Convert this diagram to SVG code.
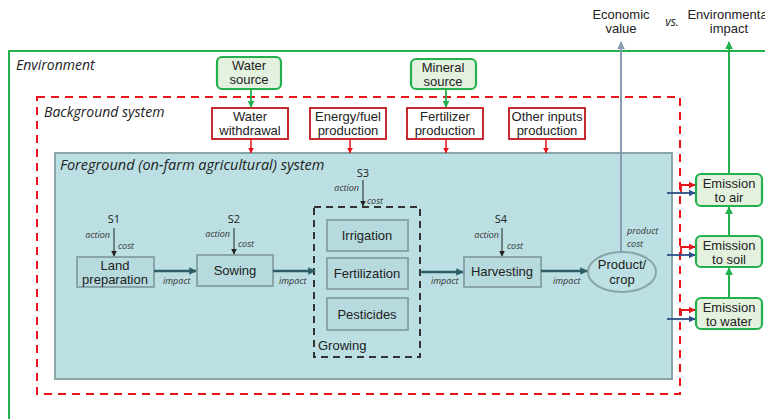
<svg xmlns="http://www.w3.org/2000/svg" width="765" height="419" viewBox="0 0 765 419">
<defs>
<style>
text{font-family:"Liberation Sans",Arial,sans-serif;fill:#222}
.it{font-family:"Open Sans","DejaVu Sans",sans-serif;font-style:italic}
.lbl{font-size:13px;text-anchor:middle}
.sm{font-size:9px;font-style:italic;fill:#333}
.s{font-family:"Open Sans","DejaVu Sans",sans-serif;font-size:11px;fill:#222;text-anchor:middle}
.green{fill:#e4f1df;stroke:#22b14c;stroke-width:2.2}
.red{fill:#fff;stroke:#c0141c;stroke-width:1.8}
.step{fill:#b6dade;stroke:#8aa5a8;stroke-width:2}
.flow{stroke:#2f5d66;stroke-width:2.5;fill:none}
.thin{stroke:#222;stroke-width:1;fill:none}
</style>
<marker id="ar" viewBox="0 0 10 10" refX="9" refY="5" markerWidth="4" markerHeight="4" orient="auto"><path d="M0,0L10,5L0,10z" fill="#e8141c"/></marker>
<marker id="ag" viewBox="0 0 10 10" refX="9" refY="5" markerWidth="4" markerHeight="4" orient="auto"><path d="M0,0L10,5L0,10z" fill="#22b14c"/></marker>
<marker id="ak" viewBox="0 0 10 10" refX="9" refY="5" markerWidth="6" markerHeight="6" orient="auto"><path d="M0,0L10,5L0,10z" fill="#222"/></marker>
<marker id="at" viewBox="0 0 10 10" refX="9" refY="5" markerWidth="3" markerHeight="3" orient="auto"><path d="M0,0L10,5L0,10z" fill="#2f5d66"/></marker>
<marker id="ab" viewBox="0 0 10 10" refX="9" refY="5" markerWidth="4" markerHeight="4" orient="auto"><path d="M0,0L10,5L0,10z" fill="#2b4f86"/></marker>
<marker id="ay" viewBox="0 0 10 10" refX="9" refY="5" markerWidth="4" markerHeight="4" orient="auto"><path d="M0,0L10,5L0,10z" fill="#8a9ab0"/></marker>
</defs>
<rect width="765" height="419" fill="#fff"/>

<g id="environment">
<rect x="9" y="51" width="770" height="380" fill="none" stroke="#22b14c" stroke-width="2"/>
<text x="16" y="70" class="it" font-size="14">Environment</text>
</g>
<g id="background">
<rect x="37" y="97" width="643" height="297" fill="none" stroke="#e8141c" stroke-width="2" stroke-dasharray="8,6"/>
<text x="44" y="117" class="it" font-size="14">Background system</text>
</g>
<g id="foreground">
<rect x="55" y="153" width="617" height="226" fill="#bbdfe3" stroke="#8aa5a8" stroke-width="2"/>
<text x="60" y="170" class="it" font-size="14.5">Foreground (on-farm agricultural) system</text>
</g>

<g id="water-source"><rect x="217" y="57" width="64" height="32" rx="5" class="green"/><text x="249" y="70" class="lbl" font-size="12">Water</text><text x="249" y="84" class="lbl" font-size="12">source</text></g>
<g id="mineral-source"><rect x="411" y="59" width="65" height="30" rx="5" class="green"/><text x="443" y="72" class="lbl" font-size="12">Mineral</text><text x="443" y="86" class="lbl" font-size="12">source</text></g>

<g id="water-withdrawal"><rect x="212" y="108" width="76" height="31" class="red"/><text x="250" y="121" class="lbl" font-size="12">Water</text><text x="250" y="135" class="lbl" font-size="12">withdrawal</text></g>
<g id="energy"><rect x="310" y="108" width="76" height="31" class="red"/><text x="348" y="121" class="lbl" font-size="12">Energy/fuel</text><text x="348" y="135" class="lbl" font-size="12">production</text></g>
<g id="fertilizer"><rect x="407" y="108" width="76" height="31" class="red"/><text x="445" y="121" class="lbl" font-size="12">Fertilizer</text><text x="445" y="135" class="lbl" font-size="12">production</text></g>
<g id="other-inputs"><rect x="509" y="108" width="76" height="31" class="red"/><text x="547" y="121" class="lbl" font-size="12">Other inputs</text><text x="547" y="135" class="lbl" font-size="12">production</text></g>

<g id="land-preparation"><rect x="77" y="257" width="77" height="30" class="step"/><text x="115" y="270" class="lbl">Land</text><text x="115" y="284" class="lbl">preparation</text></g>
<g id="sowing"><rect x="197" y="255" width="76" height="31" class="step"/><text x="235" y="275" class="lbl" font-size="14">Sowing</text></g>
<g id="growing">
<rect x="314" y="207" width="106" height="150" fill="none" stroke="#333" stroke-width="2" stroke-dasharray="7,5"/>
<text x="318" y="350" font-size="13">Growing</text>
</g>
<g id="irrigation"><rect x="327" y="220" width="81" height="31" class="step"/><text x="367" y="240" class="lbl">Irrigation</text></g>
<g id="fertilization"><rect x="327" y="258" width="81" height="31" class="step"/><text x="367" y="278" class="lbl">Fertilization</text></g>
<g id="pesticides"><rect x="327" y="298" width="81" height="32" class="step"/><text x="367" y="319" class="lbl">Pesticides</text></g>
<g id="harvesting"><rect x="464" y="257" width="77" height="30" class="step"/><text x="502" y="276" class="lbl">Harvesting</text></g>
<g id="product"><ellipse cx="622" cy="272" rx="34" ry="20" fill="#bde0e4" stroke="#8aa5a8" stroke-width="2"/><text x="622" y="269" class="lbl" font-size="12">Product/</text><text x="622" y="284" class="lbl" font-size="12">crop</text></g>

<g id="emission-air"><rect x="696" y="174" width="66" height="32" rx="5" class="green"/><text x="729" y="188" class="lbl" font-size="12">Emission</text><text x="729" y="202" class="lbl" font-size="12">to air</text></g>
<g id="emission-soil"><rect x="696" y="236" width="66" height="31" rx="5" class="green"/><text x="729" y="250" class="lbl" font-size="12">Emission</text><text x="729" y="264" class="lbl" font-size="12">to soil</text></g>
<g id="emission-water"><rect x="696" y="298" width="66" height="31" rx="5" class="green"/><text x="729" y="312" class="lbl" font-size="12">Emission</text><text x="729" y="326" class="lbl" font-size="12">to water</text></g>

<g id="outcomes">
<text x="621" y="19" class="lbl" font-size="12">Economic</text><text x="621" y="33" class="lbl" font-size="12">value</text>
<text x="672" y="26" class="it" font-size="12" text-anchor="middle">vs.</text>
<text x="729" y="19" class="lbl" font-size="12">Environmental</text><text x="729" y="33" class="lbl" font-size="12">impact</text>
</g>

<g id="connectors">
<line x1="251" y1="89" x2="251" y2="107" stroke="#22b14c" stroke-width="1.8" marker-end="url(#ag)"/>
<line x1="446" y1="89" x2="446" y2="107" stroke="#22b14c" stroke-width="1.8" marker-end="url(#ag)"/>
<line x1="251" y1="139" x2="251" y2="153" stroke="#e8141c" stroke-width="1.5" marker-end="url(#ar)"/>
<line x1="350" y1="139" x2="350" y2="153" stroke="#e8141c" stroke-width="1.5" marker-end="url(#ar)"/>
<line x1="446" y1="139" x2="446" y2="153" stroke="#e8141c" stroke-width="1.5" marker-end="url(#ar)"/>
<line x1="546" y1="139" x2="546" y2="153" stroke="#e8141c" stroke-width="1.5" marker-end="url(#ar)"/>

<line x1="621" y1="252" x2="621" y2="42" stroke="#8a9ab0" stroke-width="2" marker-end="url(#ay)"/>
<line x1="729" y1="174" x2="729" y2="42" stroke="#22b14c" stroke-width="2" marker-end="url(#ag)"/>
<line x1="729" y1="236" x2="729" y2="207" stroke="#22b14c" stroke-width="2" marker-end="url(#ag)"/>
<line x1="729" y1="298" x2="729" y2="268" stroke="#22b14c" stroke-width="2" marker-end="url(#ag)"/>

<polyline points="681,193 681,185 695,185" fill="none" stroke="#e8141c" stroke-width="1.8" marker-end="url(#ar)"/>
<polyline points="681,254 681,247 695,247" fill="none" stroke="#e8141c" stroke-width="1.8" marker-end="url(#ar)"/>
<polyline points="681,316 681,310 695,310" fill="none" stroke="#e8141c" stroke-width="1.8" marker-end="url(#ar)"/>
<line x1="667" y1="193" x2="695" y2="193" stroke="#2b4f86" stroke-width="1.8" marker-end="url(#ab)"/>
<line x1="667" y1="255" x2="695" y2="255" stroke="#2b4f86" stroke-width="1.8" marker-end="url(#ab)"/>
<line x1="667" y1="319" x2="695" y2="319" stroke="#2b4f86" stroke-width="1.8" marker-end="url(#ab)"/>

<line x1="154" y1="271" x2="196" y2="271" class="flow" marker-end="url(#at)"/>
<line x1="273" y1="271" x2="315" y2="271" class="flow" marker-end="url(#at)"/>
<line x1="420" y1="272" x2="463" y2="272" class="flow" marker-end="url(#at)"/>
<line x1="541" y1="271" x2="587" y2="271" class="flow" marker-end="url(#at)"/>

<line x1="114" y1="228" x2="114" y2="256" class="thin" marker-end="url(#ak)"/>
<line x1="234" y1="228" x2="234" y2="254" class="thin" marker-end="url(#ak)"/>
<line x1="363" y1="180" x2="363" y2="206" class="thin" marker-end="url(#ak)"/>
<line x1="502" y1="228" x2="502" y2="256" class="thin" marker-end="url(#ak)"/>
</g>

<g id="labels">
<text x="114" y="223" class="s">S1</text>
<text x="234" y="223" class="s">S2</text>
<text x="363" y="177" class="s">S3</text>
<text x="501" y="223" class="s">S4</text>
<text x="110" y="238" class="it sm" text-anchor="end">action</text><text x="118" y="249" class="it sm">cost</text>
<text x="230" y="237" class="it sm" text-anchor="end">action</text><text x="238" y="247" class="it sm">cost</text>
<text x="359" y="191" class="it sm" text-anchor="end">action</text><text x="367" y="204" class="it sm">cost</text>
<text x="499" y="238" class="it sm" text-anchor="end">action</text><text x="507" y="249" class="it sm">cost</text>
<text x="163" y="284" class="it sm">impact</text>
<text x="279" y="284" class="it sm">impact</text>
<text x="431" y="284" class="it sm">impact</text>
<text x="553" y="284" class="it sm">impact</text>
<text x="627" y="234" class="it sm">product</text>
<text x="627" y="247" class="it sm">cost</text>
</g>
</svg>
